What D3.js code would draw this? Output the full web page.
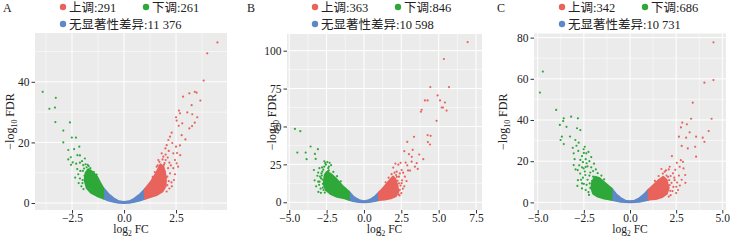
<!DOCTYPE html>
<html>
<head>
<meta charset="utf-8">
<script src="https://cdn.jsdelivr.net/npm/d3@7"></script>
<style>
body { margin: 0; background: #fff; }
svg { display: block; }
text { font-family: "Liberation Serif", "Times New Roman", "DejaVu Serif", "Noto Sans CJK SC", serif; fill: #222; }
</style>
</head>
<body>
<div id="chart"></div>
<script>
// panel labels and legend counts
const panelNames = ["A", "B", "C"];
const upCounts = ["291", "363", "342"];
const downCounts = ["261", "846", "686"];
const nsCounts = ["11 376", "10 598", "10 731"];

// tick values
const xTicksA = [-2.5, 0, 2.5];
const xTicksB = [-5, -2.5, 0, 2.5, 5, 7.5];
const xTicksC = [-5, -2.5, 0, 2.5, 5];
const yTicksA = [0, 20, 40];
const yTicksB = [0, 25, 50, 75, 100];
const yTicksC = [0, 20, 40, 60, 80];

// dense cloud outlines [log2FC, -log10 FDR]
const nsBandA = [[-1,1.5],[-0.75,0.8],[-0.5,0.35],[-0.25,0.08],[0,0],[0.25,0.08],[0.5,0.35],[0.75,0.8],[1,1.4],[1,4.6],[0.75,2.8],[0.5,1.5],[0.25,0.6],[0,0.35],[-0.25,0.6],[-0.5,1.6],[-0.75,3.0],[-1,5.0]];
const upCoreA = [[1.0,1.4],[1.3,2.0],[1.6,2.7],[1.85,3.8],[2.0,5.5],[2.02,8.5],[1.9,12],[1.75,12.8],[1.55,10],[1.3,7.2],[1.0,4.6]];
const downCoreA = [[-1.0,1.5],[-1.3,2.3],[-1.6,3.4],[-1.8,5.0],[-1.9,7.5],[-1.85,10],[-1.72,11.2],[-1.55,10.5],[-1.3,8.8],[-1.15,6.8],[-1.0,5.0]];

const nsBandB = [[-1,1.5],[-0.75,0.8],[-0.5,0.35],[-0.25,0.1],[0,0],[0.25,0.1],[0.5,0.35],[0.75,0.8],[1,1.4],[1,6.5],[0.75,4],[0.5,2.3],[0.25,1.2],[0,0.8],[-0.25,1.2],[-0.5,2.4],[-0.75,4.2],[-1,7]];
const upCoreB = [[1.0,1.5],[1.4,1.8],[1.8,2.6],[2.15,4],[2.3,7],[2.25,11],[2.1,15.5],[1.95,17],[1.75,15],[1.5,12],[1.25,9],[1.0,6.5]];
const downCoreB = [[-1.0,1.5],[-1.3,2.5],[-1.8,3.6],[-2.25,5.5],[-2.55,8],[-2.7,12],[-2.65,17],[-2.5,20],[-2.25,19],[-1.85,15.5],[-1.45,11],[-1.0,7]];

const nsBandC = [[-1,1.2],[-0.75,0.7],[-0.5,0.3],[-0.25,0.08],[0,0],[0.25,0.08],[0.5,0.3],[0.75,0.7],[1,1.2],[1,6.2],[0.75,3.8],[0.5,2.0],[0.25,0.9],[0,0.6],[-0.25,0.9],[-0.5,2.1],[-0.75,4.0],[-1,6.8]];
const upCoreC = [[1.0,1.3],[1.4,1.6],[1.75,2.6],[2.0,4.2],[2.1,7],[1.98,11],[1.8,12.5],[1.5,10.5],[1.25,8.2],[1.0,6.2]];
const downCoreC = [[-1.0,1.2],[-1.4,1.8],[-1.75,2.8],[-2.0,4.2],[-2.1,7],[-2.05,10],[-1.9,12.5],[-1.65,11.8],[-1.35,9.5],[-1.0,6.8]];

// individual significant genes [log2FC, -log10 FDR]
const upPointsA = [[4.49,53.0],[4.0,49.4],[3.83,40.4],[2.84,35.1],[3.14,36.2],[3.40,36.7],[3.49,36.4],[3.67,33.8],[2.64,30.5],[2.69,29.6],[3.25,32.3],[3.04,29.9],[3.28,29.3],[2.5,28.3],[2.53,27.2],[2.80,26.3],[3.52,28.3],[2.63,25.5],[3.40,26.5],[3.14,24.6],[3.27,25.4],[2.95,21.0],[2.69,19.0],[2.77,22.4],[2.5,18.6],[2.29,23.2],[2.21,21.9],[2.13,20.8],[2.05,19.1],[1.99,18.0],[2.37,16.4],[2.53,13.1],[2.18,13.3],[2.08,8.7],[1.89,15.3],[1.81,16.4],[2.37,11.5],[2.21,9.8],[1.97,10.3],[1.65,14.2],[1.57,12.0],[1.89,7.0],[2.3,5.5],[2.4,7.6],[2.25,12.4],[2.45,14.2],[2.15,17.2],[2.0,16.0],[2.6,12.0],[2.7,15.8],[2.32,19.8],[1.92,12.6],[2.28,6.8],[2.45,9.5],[1.75,11.0],[2.1,15.0],[2.55,16.5],[2.12,11.5],[2.0,14.2],[1.85,14.4],[1.7,13.6],[1.62,12.4],[2.15,7.2],[2.18,4.8],[2.05,3.8],[1.48,10.2],[1.38,8.6],[2.08,5.9],[1.95,13.2]];
const downPointsA = [[-3.91,36.7],[-3.28,34.7],[-3.59,31.1],[-3.32,31.5],[-3.30,26.7],[-2.60,26.6],[-2.92,23.9],[-2.92,20.0],[-2.51,21.6],[-2.31,21.6],[-2.68,17.5],[-2.15,18.6],[-2.40,17.8],[-2.24,15.8],[-2.12,15.7],[-2.56,15.1],[-2.68,14.4],[-2.47,13.4],[-2.55,12.6],[-2.12,13.3],[-1.88,14.7],[-1.96,12.5],[-2.12,8.1],[-1.99,7.6],[-1.83,7.0],[-1.76,9.8],[-1.67,5.9],[-2.05,5.5],[-2.2,9.5],[-2.25,11.2],[-2.1,10.6],[-2.02,13.8],[-1.85,12.8],[-2.35,8.4],[-1.7,12.2],[-2.18,6.6],[-1.9,9.0],[-2.3,13.0],[-1.98,10.6],[-1.8,11.8],[-1.62,11.5],[-1.45,10.2],[-1.32,9.4],[-1.95,4.6],[-2.0,6.6],[-1.92,11.4],[-1.75,12.6]];

const upPointsB = [[6.94,105.7],[5.35,94.5],[5.69,76.0],[4.44,76.0],[4.93,70.5],[5.09,67.2],[4.08,67.2],[4.26,67.2],[3.86,61.0],[3.81,59.7],[5.42,65.8],[5.20,62.5],[5.29,62.5],[5.53,60.5],[4.86,53.7],[3.35,43.2],[4.26,44.3],[4.46,43.8],[4.28,39.7],[4.42,38.1],[2.90,39.9],[3.26,34.6],[2.70,33.7],[3.70,31.5],[3.01,31.7],[3.97,28.4],[2.79,26.2],[3.19,26.8],[3.53,25.8],[2.30,24.8],[2.90,24.4],[3.41,23.5],[2.52,21.3],[3.08,20.9],[1.96,22.9],[2.19,20.2],[2.34,16.9],[2.74,16.9],[2.07,13.6],[2.52,12.6],[1.96,10.3],[2.30,7.0],[2.5,6.0],[2.6,9.0],[2.45,11.0],[2.55,14.5],[2.4,19.0],[2.7,10.5],[2.15,18.0],[2.62,19.5],[2.85,14.0],[2.95,21.0],[2.45,26.0],[2.1,25.5],[3.2,30.0],[3.6,22.0],[2.25,14.2],[2.38,4.5],[2.35,12.5],[2.2,16.8],[2.05,19.5],[1.85,18.5],[1.65,16.2],[1.45,13.2],[2.4,8.2],[2.32,5.2]];
const downPointsB = [[-4.62,48.4],[-4.26,46.9],[-4.46,32.8],[-3.90,32.8],[-3.57,36.8],[-3.08,35.0],[-3.84,28.4],[-3.28,31.9],[-3.23,28.6],[-3.35,21.3],[-3.06,19.6],[-2.97,13.6],[-3.06,13.6],[-2.59,25.8],[-2.66,23.5],[-2.39,22.5],[-2.79,20.2],[-2.88,15.9],[-2.61,10.3],[-2.70,8.1],[-2.9,9.0],[-3.0,11.5],[-2.95,17.0],[-2.85,19.0],[-2.72,21.5],[-2.55,24.8],[-2.45,26.5],[-3.12,17.5],[-2.35,23.5],[-2.2,24.5],[-3.2,10.5],[-2.88,6.2],[-2.8,23.0],[-2.5,19.0],[-3.3,14.5],[-2.98,22.5],[-2.65,27.0],[-3.05,6.8],[-2.4,20.5],[-2.75,12.2],[-2.3,26.0],[-2.78,15.0],[-2.62,18.2],[-2.35,21.0],[-2.05,20.0],[-1.8,17.2],[-1.55,13.8],[-2.75,9.6],[-2.62,6.4],[-2.82,17.6]];

const upPointsC = [[4.52,77.7],[4.52,59.4],[4.03,58.1],[3.40,48.4],[4.42,40.6],[3.31,40.6],[2.83,38.7],[3.08,37.9],[2.76,36.4],[4.26,34.6],[3.23,34.0],[3.58,31.9],[3.94,31.4],[4.03,29.4],[3.04,31.4],[2.65,31.9],[2.80,27.4],[3.53,27.0],[3.13,26.2],[3.58,22.2],[2.27,22.5],[2.54,19.2],[2.87,19.7],[2.69,17.3],[2.99,13.3],[2.15,17.3],[1.88,14.9],[2.33,14.1],[2.06,12.4],[2.42,10.8],[2.15,8.4],[2.51,7.6],[1.88,6.8],[2.2,3.5],[2.3,5.5],[2.35,7.5],[2.25,9.5],[2.4,12.0],[2.2,12.8],[1.95,15.5],[2.1,16.0],[1.7,16.2],[2.5,4.5],[2.6,6.0],[2.7,8.2],[2.55,9.6],[2.8,11.0],[2.65,13.0],[2.0,10.2],[2.45,15.8],[2.9,16.5],[2.75,20.5],[3.0,9.5],[2.12,10.8],[1.98,13.0],[1.78,14.0],[1.55,12.8],[2.18,5.6],[2.1,2.8],[1.35,10.4]];
const downPointsC = [[-4.72,63.5],[-4.88,53.3],[-4.0,44.9],[-3.59,40.8],[-3.62,39.5],[-3.19,41.6],[-3.80,37.6],[-3.44,36.7],[-3.76,30.3],[-3.59,28.3],[-3.69,31.9],[-2.82,40.8],[-2.87,36.0],[-2.69,35.1],[-2.96,30.3],[-2.78,29.0],[-3.05,23.8],[-2.51,25.8],[-2.37,23.8],[-2.69,20.6],[-2.83,15.7],[-2.51,16.5],[-2.82,10.8],[-2.42,13.3],[-2.60,9.2],[-3.05,18.1],[-2.0,15.2],[-2.1,17.0],[-2.2,13.0],[-2.3,11.0],[-2.35,8.5],[-2.4,6.0],[-2.5,9.0],[-2.55,12.0],[-2.45,15.0],[-2.3,17.5],[-2.2,20.0],[-2.4,21.0],[-2.6,22.5],[-2.5,24.0],[-2.7,14.0],[-2.75,18.0],[-2.65,11.0],[-2.8,25.0],[-2.9,27.5],[-2.1,22.0],[-1.95,18.8],[-2.25,24.5],[-2.05,10.5],[-2.15,7.0],[-2.35,19.0],[-2.6,17.0],[-3.0,21.0],[-2.95,16.0],[-2.45,27.0],[-2.25,5.0],[-2.6,6.8],[-2.0,12.5],[-1.85,16.0],[-2.15,14.5],[-2.85,8.0],[-3.25,32.0],[-3.1,26.5],[-2.55,19.5],[-2.4,17.2],[-1.75,14.2],[-1.55,13.0],[-1.4,11.2],[-2.18,9.2],[-2.22,3.6]];

const width = 730, height = 244;
const upColor = "#E8635C", downColor = "#2FA83A", nsColor = "#5E88C8";
const serif = "'Liberation Serif', 'Times New Roman', 'DejaVu Serif', serif";

const svg = d3.select("#chart").append("svg")
    .attr("width", width)
    .attr("height", height);

// panel frames and scale ranges
const panels = [
    { name: panelNames[0], left: 35, right: 227, top: 33, bottom: 210, xDomain: [-4.28, 4.95], yDomain: [-2.3, 56.1],
      xTicks: xTicksA, yTicks: yTicksA, ns: nsBandA, upCore: upCoreA, downCore: downCoreA, up: upPointsA, down: downPointsA,
      up_n: upCounts[0], down_n: downCounts[0], ns_n: nsCounts[0], labelX: 3, titleX: 10 },
    { name: panelNames[1], left: 287, right: 482, top: 34, bottom: 210, xDomain: [-5.15, 7.9], yDomain: [-5.1, 111],
      xTicks: xTicksB, yTicks: yTicksB, ns: nsBandB, upCore: upCoreB, downCore: downCoreB, up: upPointsB, down: downPointsB,
      up_n: upCounts[1], down_n: downCounts[1], ns_n: nsCounts[1], labelX: 247, titleX: 272 },
    { name: panelNames[2], left: 534, right: 726, top: 33.5, bottom: 210, xDomain: [-5.2, 5.2], yDomain: [-3.7, 82.0],
      xTicks: xTicksC, yTicks: yTicksC, ns: nsBandC, upCore: upCoreC, downCore: downCoreC, up: upPointsC, down: downPointsC,
      up_n: upCounts[2], down_n: downCounts[2], ns_n: nsCounts[2], labelX: 497, titleX: 503 }
];

const fmtX = d => (d < 0 ? "\u2212" : "") + d3.format(".1f")(Math.abs(d));

// minor breaks: midpoints between majors, extended one step on each side
function minorBreaks(ticks, domain) {
    const step = ticks[1] - ticks[0];
    const out = [];
    for (let i = -1; i < ticks.length; i++) {
        const m = ticks[0] + step * (i + 0.5);
        if (m > domain[0] && m < domain[1]) out.push(m);
    }
    return out;
}

function drawPanel(p) {
    const g = svg.append("g");
    const x = d3.scaleLinear().domain(p.xDomain).range([p.left, p.right]);
    const y = d3.scaleLinear().domain(p.yDomain).range([p.bottom, p.top]);

    // background
    g.append("rect")
        .attr("x", p.left).attr("y", p.top)
        .attr("width", p.right - p.left).attr("height", p.bottom - p.top)
        .attr("fill", "#EBEBEB");

    // grid lines
    g.selectAll("line.xminor").data(minorBreaks(p.xTicks, p.xDomain)).join("line")
        .attr("x1", d => x(d)).attr("x2", d => x(d)).attr("y1", p.top).attr("y2", p.bottom)
        .attr("stroke", "#fff").attr("stroke-width", 0.5);
    g.selectAll("line.yminor").data(minorBreaks(p.yTicks, p.yDomain)).join("line")
        .attr("x1", p.left).attr("x2", p.right).attr("y1", d => y(d)).attr("y2", d => y(d))
        .attr("stroke", "#fff").attr("stroke-width", 0.5);
    g.selectAll("line.xmajor").data(p.xTicks).join("line")
        .attr("x1", d => x(d)).attr("x2", d => x(d)).attr("y1", p.top).attr("y2", p.bottom)
        .attr("stroke", "#fff").attr("stroke-width", 1);
    g.selectAll("line.ymajor").data(p.yTicks).join("line")
        .attr("x1", p.left).attr("x2", p.right).attr("y1", d => y(d)).attr("y2", d => y(d))
        .attr("stroke", "#fff").attr("stroke-width", 1);

    // dense clouds
    const outline = d3.line().x(d => x(d[0])).y(d => y(d[1]));
    [[p.ns, nsColor], [p.downCore, downColor], [p.upCore, upColor]].forEach(([shape, col]) => {
        g.append("path")
            .attr("d", outline(shape) + "Z")
            .attr("fill", col)
            .attr("stroke", col)
            .attr("stroke-width", 1.8)
            .attr("stroke-linejoin", "round");
    });

    // individual points
    g.selectAll("circle.down").data(p.down).join("circle")
        .attr("cx", d => x(d[0])).attr("cy", d => y(d[1])).attr("r", 1.1).attr("fill", downColor);
    g.selectAll("circle.up").data(p.up).join("circle")
        .attr("cx", d => x(d[0])).attr("cy", d => y(d[1])).attr("r", 1.1).attr("fill", upColor);

    // axes
    const xAxis = d3.axisBottom(x).tickValues(p.xTicks).tickFormat(fmtX).tickSize(3.5).tickPadding(0.5);
    const yAxis = d3.axisLeft(y).tickValues(p.yTicks).tickFormat(d3.format("d")).tickSize(3.5).tickPadding(2);
    const ax = g.append("g").attr("transform", `translate(0,${p.bottom})`).call(xAxis);
    const ay = g.append("g").attr("transform", `translate(${p.left},0)`).call(yAxis);
    [ax, ay].forEach(a => {
        a.attr("font-family", serif).attr("font-size", 12);
        a.select(".domain").remove();
        a.selectAll("line").attr("stroke", "#333");
        a.selectAll("text").attr("fill", "#222").style("font-size", "11.5px")
            .style("font-family", serif);
    });

    // axis titles
    const xt = g.append("text")
        .attr("x", (p.left + p.right) / 2).attr("y", 233)
        .attr("text-anchor", "middle").style("font-size", "11.5px").style("font-family", serif);
    xt.append("tspan").text("log");
    xt.append("tspan").attr("dy", 2.5).style("font-size", "7.5px").text("2");
    xt.append("tspan").attr("dy", -2.5).text(" FC");

    const yt = g.append("text")
        .attr("transform", `translate(${p.titleX + 4},${(p.top + p.bottom) / 2}) rotate(-90)`)
        .attr("text-anchor", "middle").style("font-size", "12px").style("font-family", serif);
    yt.append("tspan").text("\u2212log");
    yt.append("tspan").attr("dy", 3).style("font-size", "8px").text("10");
    yt.append("tspan").attr("dy", -3).text(" FDR");

    // panel tag
    g.append("text").attr("x", p.labelX).attr("y", 12).style("font-size", "12px").style("font-family", serif).text(p.name);

    // legend
    const legend = [
        { col: upColor, label: "上调:" + p.up_n, dx: 28, dy: 7 },
        { col: downColor, label: "下调:" + p.down_n, dx: 111, dy: 7 },
        { col: nsColor, label: "无显著性差异:" + p.ns_n, dx: 28, dy: 24 }
    ];
    const lg = g.selectAll("g.leg").data(legend).join("g")
        .attr("transform", d => `translate(${p.left + d.dx},${d.dy})`);
    lg.append("circle").attr("r", 3.2).attr("fill", d => d.col);
    lg.append("text").attr("x", 6).attr("y", 4.5).style("font-size", "12.5px").text(d => d.label);
}

panels.forEach(drawPanel);
</script>
</body>
</html>
